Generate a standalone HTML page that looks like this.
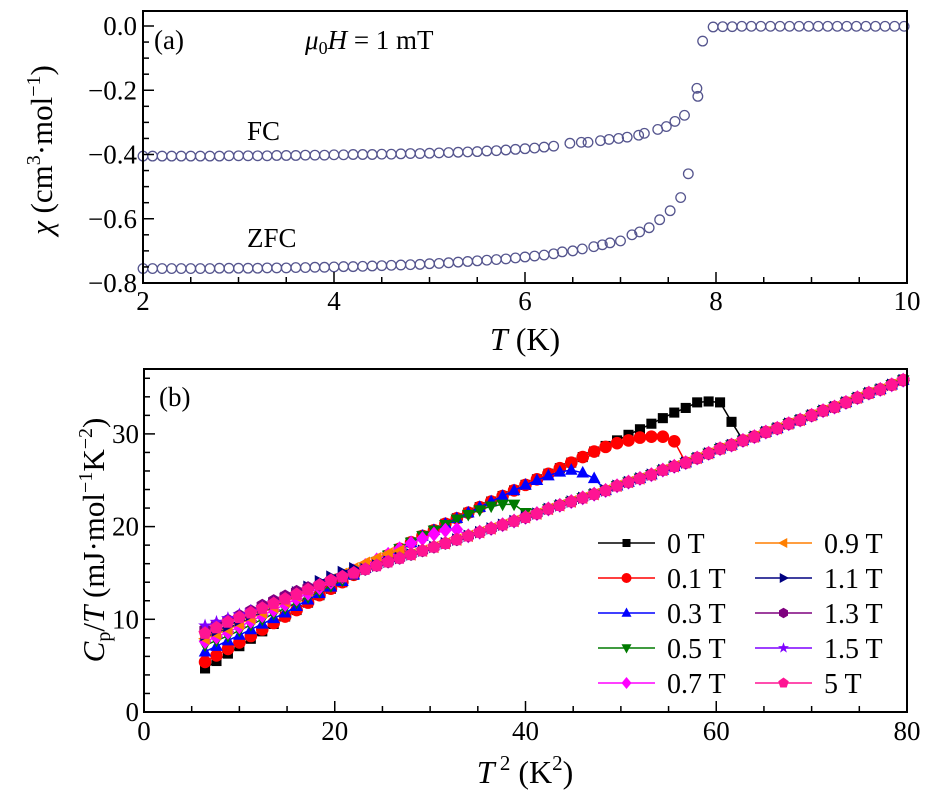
<!DOCTYPE html>
<html><head><meta charset="utf-8"><style>
html,body{margin:0;padding:0;background:#fff}
svg{display:block;font-family:"Liberation Serif",serif}
text{font-family:"Liberation Serif",serif}
</style></head><body>
<svg id="fig" width="934" height="796" viewBox="0 0 934 796" xmlns="http://www.w3.org/2000/svg" font-family="Liberation Serif, serif" style="position:absolute;left:0;top:0">
<g id="pa"></g>
<g id="pb"></g>
<text x="154" y="49" font-size="27">(a)</text>
<text x="305" y="49" font-size="27"><tspan font-style="italic">μ</tspan><tspan font-size="18" dy="5">0</tspan><tspan dy="-5" font-style="italic">H</tspan> = 1 mT</text>
<text x="247" y="140" font-size="27">FC</text>
<text x="247" y="247" font-size="27">ZFC</text>
<text x="525" y="350" font-size="32" text-anchor="middle"><tspan font-style="italic">T</tspan> (K)</text>
<text transform="translate(52,150) rotate(-90)" font-size="31" text-anchor="middle"><tspan font-style="italic">χ</tspan> (cm<tspan font-size="20" dy="-12">3</tspan><tspan dy="12">·mol</tspan><tspan font-size="20" dy="-12">−1</tspan><tspan dy="12">)</tspan></text>
<text x="159" y="406" font-size="27">(b)</text>
<text x="525" y="783" font-size="32" text-anchor="middle"><tspan font-style="italic">T</tspan><tspan font-size="21" dy="-13"> 2</tspan><tspan dy="13"> (K</tspan><tspan font-size="21" dy="-13">2</tspan><tspan dy="13">)</tspan></text>
<text transform="translate(104,540) rotate(-90)" font-size="31" text-anchor="middle"><tspan font-style="italic">C</tspan><tspan font-size="20" dy="6">p</tspan><tspan dy="-6">/</tspan><tspan font-style="italic">T</tspan> (mJ·mol<tspan font-size="20" dy="-12">−1</tspan><tspan dy="12">K</tspan><tspan font-size="20" dy="-12">−2</tspan><tspan dy="12">)</tspan></text>
</svg>
<script>
// ---- Panel (a) data ----
const fcT=[2.0,2.1,2.2,2.3,2.4,2.5,2.6,2.7,2.8,2.9,3.0,3.1,3.2,3.3,3.4,3.5,3.6,3.7,3.8,3.9,4.0,4.1,4.2,4.3,4.4,4.5,4.6,4.7,4.8,4.9,5.0,5.1,5.2,5.3,5.4,5.5,5.6,5.7,5.8,5.9,6.0,6.1,6.2,6.3,6.47,6.59,6.66,6.79,6.88,6.98,7.07,7.19,7.25,7.39,7.48,7.57,7.67,7.80,7.81,7.86];
const fcChi=[-0.405,-0.405,-0.405,-0.405,-0.405,-0.405,-0.405,-0.405,-0.405,-0.404,-0.404,-0.404,-0.404,-0.404,-0.403,-0.403,-0.403,-0.402,-0.402,-0.402,-0.401,-0.401,-0.400,-0.400,-0.400,-0.399,-0.399,-0.398,-0.397,-0.397,-0.396,-0.395,-0.394,-0.393,-0.392,-0.391,-0.389,-0.388,-0.386,-0.384,-0.382,-0.380,-0.377,-0.374,-0.365,-0.362,-0.362,-0.357,-0.353,-0.350,-0.346,-0.340,-0.334,-0.322,-0.313,-0.297,-0.278,-0.194,-0.219,-0.047];
const zfcT=[2.0,2.1,2.2,2.3,2.4,2.5,2.6,2.7,2.8,2.9,3.0,3.1,3.2,3.3,3.4,3.5,3.6,3.7,3.8,3.9,4.0,4.1,4.2,4.3,4.4,4.5,4.6,4.7,4.8,4.9,5.0,5.1,5.2,5.3,5.4,5.5,5.6,5.7,5.8,5.9,6.0,6.1,6.2,6.3,6.39,6.5,6.6,6.72,6.81,6.89,7.0,7.12,7.20,7.30,7.41,7.52,7.63,7.71];
const zfcChi=[-0.755,-0.755,-0.755,-0.755,-0.755,-0.755,-0.755,-0.755,-0.754,-0.754,-0.754,-0.754,-0.754,-0.753,-0.753,-0.753,-0.752,-0.752,-0.751,-0.751,-0.750,-0.749,-0.749,-0.748,-0.747,-0.746,-0.745,-0.744,-0.743,-0.742,-0.740,-0.739,-0.737,-0.735,-0.733,-0.731,-0.729,-0.727,-0.725,-0.722,-0.719,-0.716,-0.713,-0.709,-0.703,-0.700,-0.694,-0.687,-0.681,-0.675,-0.669,-0.650,-0.641,-0.628,-0.603,-0.575,-0.534,-0.460];
const nT=[7.97,8.07,8.17,8.27,8.37,8.47,8.57,8.67,8.77,8.87,8.97,9.07,9.17,9.27,9.37,9.47,9.57,9.67,9.77,9.87,9.97];
const nChi=[-0.003,-0.002,-0.002,-0.001,-0.001,-0.001,-0.001,-0.001,-0.001,-0.001,-0.001,-0.001,-0.001,-0.001,-0.001,-0.001,-0.001,-0.001,-0.001,-0.001,-0.001];
const aXTicks=[2,4,6,8,10];
const aYTicks=[0,-0.2,-0.4,-0.6,-0.8];
const aYLabels=["0.0","\u22120.2","\u22120.4","\u22120.6","\u22120.8"];

// ---- Panel (b) data ----
const gridX=[6.4,7.6,8.8,10.0,11.2,12.4,13.6,14.8,16.0,17.2,18.4,19.6,20.8,22.0,23.2,24.4,25.6,26.8,28.0,29.2,30.4,31.6,32.8,34.0,35.2,36.4,37.6,38.8,40.0,41.2,42.4,43.6,44.8,46.0,47.2,48.4,49.6,50.8,52.0,53.2,54.4,55.6,56.8,58.0,59.2,60.4,61.6,62.8,64.0,65.2,66.4,67.6,68.8,70.0,71.2,72.4,73.6,74.8,76.0,77.2,78.4,79.6];
const normalY=[8.5,9.1,9.7,10.2,10.7,11.2,11.7,12.2,12.7,13.2,13.7,14.2,14.6,15.0,15.4,15.8,16.2,16.6,17.0,17.4,17.8,18.2,18.6,19.0,19.4,19.8,20.2,20.6,21.0,21.4,21.9,22.3,22.7,23.1,23.5,23.9,24.4,24.8,25.2,25.6,26.1,26.5,26.9,27.4,27.9,28.4,28.8,29.3,29.7,30.2,30.6,31.1,31.5,32.0,32.5,32.9,33.4,33.9,34.4,34.8,35.3,35.8];
const sc0=[4.7,5.5,6.3,7.1,7.9,8.7,9.5,10.3,11.0,11.8,12.6,13.3,14.0,14.8,15.5,16.2,16.9,17.6,18.3,19.0,19.6,20.3,20.9,21.5,22.1,22.7,23.3,23.9,24.5,25.1,25.7,26.3,26.9,27.5,28.1,28.7,29.3,29.9,30.5,31.1,31.7,32.3,32.8,33.4,33.5,33.4,31.3];
const sc01=[5.4,6.1,6.8,7.5,8.2,8.9,9.6,10.3,11.0,11.8,12.6,13.3,14.0,14.8,15.5,16.2,16.9,17.6,18.3,19.0,19.6,20.3,20.9,21.5,22.1,22.7,23.3,23.9,24.5,25.1,25.7,26.3,26.9,27.5,28.1,28.6,29.0,29.3,29.6,29.7,29.7,29.2];
const sc03=[6.5,7.1,7.7,8.3,8.9,9.5,10.1,10.7,11.4,12.1,12.8,13.5,14.1,14.8,15.5,16.2,16.9,17.6,18.3,19.0,19.6,20.3,20.9,21.5,22.1,22.7,23.3,23.9,24.5,25.0,25.5,25.9,26.1,25.8,25.2];
const sc05=[7.2,7.7,8.2,8.8,9.4,10.0,10.6,11.2,11.8,12.4,13.0,13.6,14.2,14.9,15.5,16.2,16.9,17.6,18.3,19.0,19.6,20.2,20.8,21.3,21.8,22.2,22.4,22.4,21.5];
const sc07=[7.6,8.1,8.6,9.2,9.8,10.4,11.0,11.6,12.2,12.8,13.4,14.0,14.6,15.2,15.8,16.4,17.0,17.6,18.2,18.7,19.2,19.6,19.7];
const sc09=[7.9,8.4,8.9,9.5,10.1,10.7,11.3,11.9,12.5,13.1,13.7,14.3,14.9,15.5,16.1,16.6,17.1,17.4];
const sc11=[8.3,8.8,9.3,9.9,10.5,11.1,11.7,12.3,12.9,13.5,14.1,14.6,15.1,15.5];
const sc13=[8.9,9.4,9.9,10.4,10.9,11.5,12.0,12.5,13.0,13.4,13.7];
const sc15=[9.3,9.7,10.1,10.5,10.9,11.3,11.8,12.2];
const sc5=[];
const fieldLabels=["0 T","0.1 T","0.3 T","0.5 T","0.7 T","0.9 T","1.1 T","1.3 T","1.5 T","5 T"];
const bXTicks=[0,20,40,60,80];
const bYTicks=[0,10,20,30];

const NS="http://www.w3.org/2000/svg";
function mk(tag,attrs,parent){const e=document.createElementNS(NS,tag);for(const k in attrs)e.setAttribute(k,attrs[k]);parent.appendChild(e);return e;}

const A={x0:143,x1:907,y0:11,y1:283};
const ax=t=>A.x0+(t-2)/8*(A.x1-A.x0);
const ay=c=>26+(-c)/0.8*(283-26);
const B={x0:144,x1:907,y0:369,y1:712};
const bx=v=>B.x0+v/80*(B.x1-B.x0);
const by=v=>712-v*9.27;

const pa=document.getElementById('pa');
function drawCircles(T,C,name){
  const g=mk('g',{},pa);
  
  
  for(let i=0;i<T.length;i++){
    const c=mk('circle',{cx:ax(T[i]),cy:ay(C[i]),r:4.8,fill:'none',stroke:'#55558e','stroke-width':1.3},g);
    
    
  }
}
drawCircles(fcT,fcChi,'fc-series');
drawCircles(zfcT,zfcChi,'zfc-series');
drawCircles(nT,nChi,'normal-state-series');
for(let t=2;t<=10.001;t+=0.5){const maj=Math.abs(t-Math.round(t/2)*2)<1e-6;const x=ax(t);
  const l=mk('line',{x1:x,x2:x,y1:A.y1,y2:A.y1-(maj?11:6),stroke:'#000','stroke-width':1.5},pa);
  }
for(let c=0;c>=-0.8001;c-=0.05){const maj=Math.abs(c*5-Math.round(c*5))<1e-6;const y=ay(c);
  const l=mk('line',{x1:A.x0,x2:A.x0+(maj?11:6),y1:y,y2:y,stroke:'#000','stroke-width':1.5},pa);
  }
aXTicks.forEach(t=>{const e=mk('text',{x:ax(t),y:310,'font-size':27,'text-anchor':'middle'},pa);e.textContent=String(t);
  });
aYTicks.forEach((c,i)=>{const e=mk('text',{x:137,y:ay(c)+9,'font-size':27,'text-anchor':'end'},pa);e.textContent=aYLabels[i];
  });
const boxA=mk('rect',{x:A.x0,y:A.y0,width:A.x1-A.x0,height:A.y1-A.y0,fill:'none',stroke:'#000','stroke-width':2},pa);


const pb=document.getElementById('pb');
const colors=['#000000','#ff0000','#0000ff','#007a00','#ff00ff','#ff7f00','#000080','#7f007f','#7f00ff','#ff1493'];
const shapes=['square','circle','tri-up','tri-down','diamond','tri-left','tri-right','hexagon','star','pentagon'];
const series=[sc0,sc01,sc03,sc05,sc07,sc09,sc11,sc13,sc15,sc5];
function marker(shape,x,y,s,col,parent){
  let e;
  const P=pts=>mk('polygon',{points:pts.map(p=>(x+p[0]*s)+','+(y+p[1]*s)).join(' '),fill:col},parent);
  if(shape==='square')e=mk('rect',{x:x-0.8*s,y:y-0.8*s,width:1.6*s,height:1.6*s,fill:col},parent);
  else if(shape==='circle')e=mk('circle',{cx:x,cy:y,r:s,fill:col},parent);
  else if(shape==='tri-up')e=P([[0,-1.1],[1,0.75],[-1,0.75]]);
  else if(shape==='tri-down')e=P([[0,1.1],[1,-0.75],[-1,-0.75]]);
  else if(shape==='tri-left')e=P([[-1.1,0],[0.75,-1],[0.75,1]]);
  else if(shape==='tri-right')e=P([[1.1,0],[-0.75,-1],[-0.75,1]]);
  else if(shape==='diamond')e=P([[0,-1.2],[1,0],[0,1.2],[-1,0]]);
  else if(shape==='hexagon')e=P([[0,-1.05],[0.9,-0.52],[0.9,0.52],[0,1.05],[-0.9,0.52],[-0.9,-0.52]]);
  else if(shape==='pentagon')e=P([[0,-1.1],[1.05,-0.34],[0.65,0.9],[-0.65,0.9],[-1.05,-0.34]]);
  else{const pts=[];for(let k=0;k<10;k++){const a=-Math.PI/2+k*Math.PI/5,r=k%2?0.45:1.15;pts.push([r*Math.cos(a),r*Math.sin(a)]);}e=P(pts);}
  return e;
}
series.forEach((sc,si)=>{
  const g=mk('g',{},pb);
  
  
  const ys=gridX.map((v,i)=>i<sc.length?sc[i]:normalY[i]);
  const d=gridX.map((v,i)=>(i?'L':'M')+bx(v).toFixed(1)+' '+by(ys[i]).toFixed(1)).join('');
  const p=mk('path',{d:d,fill:'none',stroke:colors[si],'stroke-width':1.5},g);
  
  gridX.forEach((v,i)=>{const m=marker(shapes[si],bx(v),by(ys[i]),6.3,colors[si],g);
    });
});
for(let v=0;v<=80;v+=5){const maj=v%20===0;const x=bx(v);
  const l=mk('line',{x1:x,x2:x,y1:B.y1,y2:B.y1-(maj?11:6),stroke:'#000','stroke-width':1.5},pb);
  }
for(let v=0;v<=36;v+=2){const maj=v%10===0;const y=by(v);
  const l=mk('line',{x1:B.x0,x2:B.x0+(maj?11:6),y1:y,y2:y,stroke:'#000','stroke-width':1.5},pb);
  }
bXTicks.forEach(t=>{const e=mk('text',{x:bx(t),y:740,'font-size':27,'text-anchor':'middle'},pb);e.textContent=String(t);
  });
bYTicks.forEach(v=>{const e=mk('text',{x:139,y:by(v)+9,'font-size':27,'text-anchor':'end'},pb);e.textContent=String(v);
  });
const lg=mk('g',{},pb);


fieldLabels.forEach((lab,i)=>{
  const col=i<5?0:1,row=i%5;
  const x0=col?755:598,y=543+row*35;
  const g=mk('g',{},lg);
  
  
  mk('line',{x1:x0,x2:x0+57,y1:y,y2:y,stroke:colors[i],'stroke-width':1.6},g);
  marker(shapes[i],x0+28.5,y,5,colors[i],g);
  const t=mk('text',{x:x0+69,y:y+10,'font-size':28},g);t.textContent=lab;
});
const boxB=mk('rect',{x:B.x0,y:B.y0,width:B.x1-B.x0,height:B.y1-B.y0,fill:'none',stroke:'#000','stroke-width':2},pb);

</script>
</body></html>
